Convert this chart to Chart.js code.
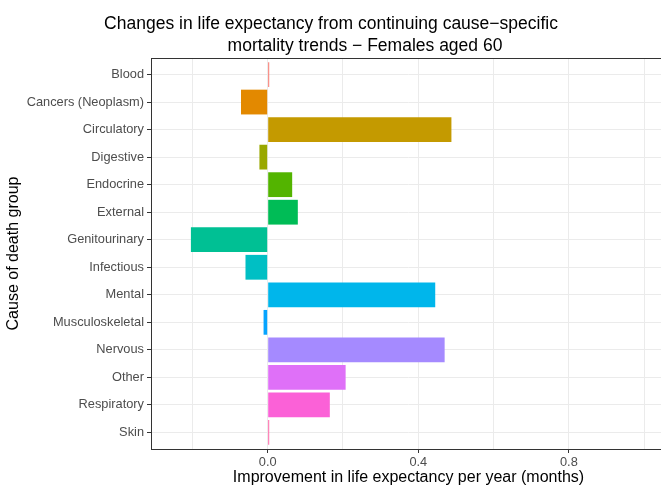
<!DOCTYPE html>
<html>
<head>
<meta charset="utf-8">
<script src="https://cdn.jsdelivr.net/npm/chart.js@4.4.0/dist/chart.umd.min.js"></script>
<style>
  html, body { margin: 0; padding: 0; background: #fff; overflow: hidden; }
  #wrap { position: relative; width: 672px; height: 489px; }
</style>
</head>
<body>
<div id="wrap"><canvas id="lifeChart"></canvas></div>
<script>
const causes = ["Blood", "Cancers (Neoplasm)", "Circulatory", "Digestive", "Endocrine", "External",
  "Genitourinary", "Infectious", "Mental", "Musculoskeletal", "Nervous", "Other", "Respiratory", "Skin"];
const improvement = [0.004, -0.071, 0.488, -0.022, 0.065, 0.080, -0.204, -0.059, 0.445, -0.011, 0.470, 0.207, 0.165, 0.004];
const barColours = ["#F8766D", "#E38900", "#C49A00", "#99A800", "#53B400", "#00BC56", "#00C094",
  "#00BFC4", "#00B6EB", "#06A4FF", "#A58AFF", "#DF70F8", "#FB61D7", "#FF66A8"];
const xTicks = [-0.2, 0, 0.2, 0.4, 0.6, 0.8, 1.0];
const xLabelled = [0, 0.4, 0.8];
const titleLines = ["Changes in life expectancy from continuing cause\u2212specific", "mortality trends \u2212 Females aged 60"];

const FONT = "'Liberation Sans', Arial, sans-serif";
const isMajor = v => xLabelled.some(m => Math.abs(m - v) < 1e-6);

// two-line title, second line sits a bit to the right
const titlePlugin = {
  id: "twoLineTitle",
  afterDraw(chart) {
    const ctx = chart.ctx;
    ctx.save();
    ctx.fillStyle = "#000";
    ctx.font = "17.5px " + FONT;
    ctx.textAlign = "center";
    ctx.textBaseline = "alphabetic";
    ctx.fillText(titleLines[0], 331, 29);
    ctx.fillText(titleLines[1], 365, 51);
    ctx.restore();
  }
};

// panel border round the plotting area
const borderPlugin = {
  id: "panelBorder",
  afterDatasetsDraw(chart) {
    const a = chart.chartArea;
    const ctx = chart.ctx;
    ctx.save();
    ctx.strokeStyle = "#333";
    ctx.lineWidth = 1;
    ctx.strokeRect(Math.round(a.left) + 0.5, Math.round(a.top) + 0.5,
      Math.round(a.right - a.left), Math.round(a.bottom - a.top));
    ctx.restore();
  }
};

new Chart(document.getElementById("lifeChart"), {
  type: "bar",
  data: {
    datasets: [{
      data: improvement.map((v, i) => ({ x: v, y: i + 1 })),
      backgroundColor: barColours,
      borderWidth: 0,
      barPercentage: 1,
      categoryPercentage: 0.9
    }]
  },
  options: {
    indexAxis: "y",
    responsive: true,
    maintainAspectRatio: false,
    animation: false,
    layout: { padding: { top: 58, right: 6, left: 0, bottom: 0 } },
    plugins: {
      legend: { display: false },
      tooltip: { enabled: false }
    },
    scales: {
      x: {
        type: "linear",
        min: -0.31,
        max: 1.058,
        afterBuildTicks: s => { s.ticks = xTicks.map(v => ({ value: v })); },
        afterFit: s => { s.height = 40; },
        border: { display: false },
        grid: {
          color: "#EBEBEB",
          lineWidth: 1,
          tickLength: 4,
          tickColor: c => isMajor(c.tick.value) ? "#333" : "rgba(0,0,0,0)"
        },
        ticks: {
          autoSkip: false,
          maxRotation: 0,
          padding: 2,
          color: "#4D4D4D",
          font: { family: FONT, size: 12.8 },
          callback: v => isMajor(v) ? v.toFixed(1) : ""
        },
        title: {
          display: true,
          text: "Improvement in life expectancy per year (months)",
          color: "#000",
          font: { family: FONT, size: 16 },
          padding: { top: 0, bottom: 2 }
        }
      },
      y: {
        type: "linear",
        reverse: true,
        offset: false,
        min: 0.4,
        max: 14.6,
        afterBuildTicks: s => { s.ticks = causes.map((_, i) => ({ value: i + 1 })); },
        afterFit: s => { s.width = 151; },
        border: { display: false },
        grid: {
          offset: false,
          color: "#EBEBEB",
          lineWidth: 1,
          tickLength: 4,
          tickColor: "#333"
        },
        ticks: {
          autoSkip: false,
          padding: 3,
          color: "#4D4D4D",
          font: { family: FONT, size: 12.8 },
          callback: v => causes[Math.round(v) - 1] || ""
        },
        title: {
          display: true,
          text: "Cause of death group",
          color: "#000",
          font: { family: FONT, size: 16 },
          padding: { top: 4, bottom: 0 }
        }
      }
    }
  },
  plugins: [titlePlugin, borderPlugin]
});
</script>
</body>
</html>
